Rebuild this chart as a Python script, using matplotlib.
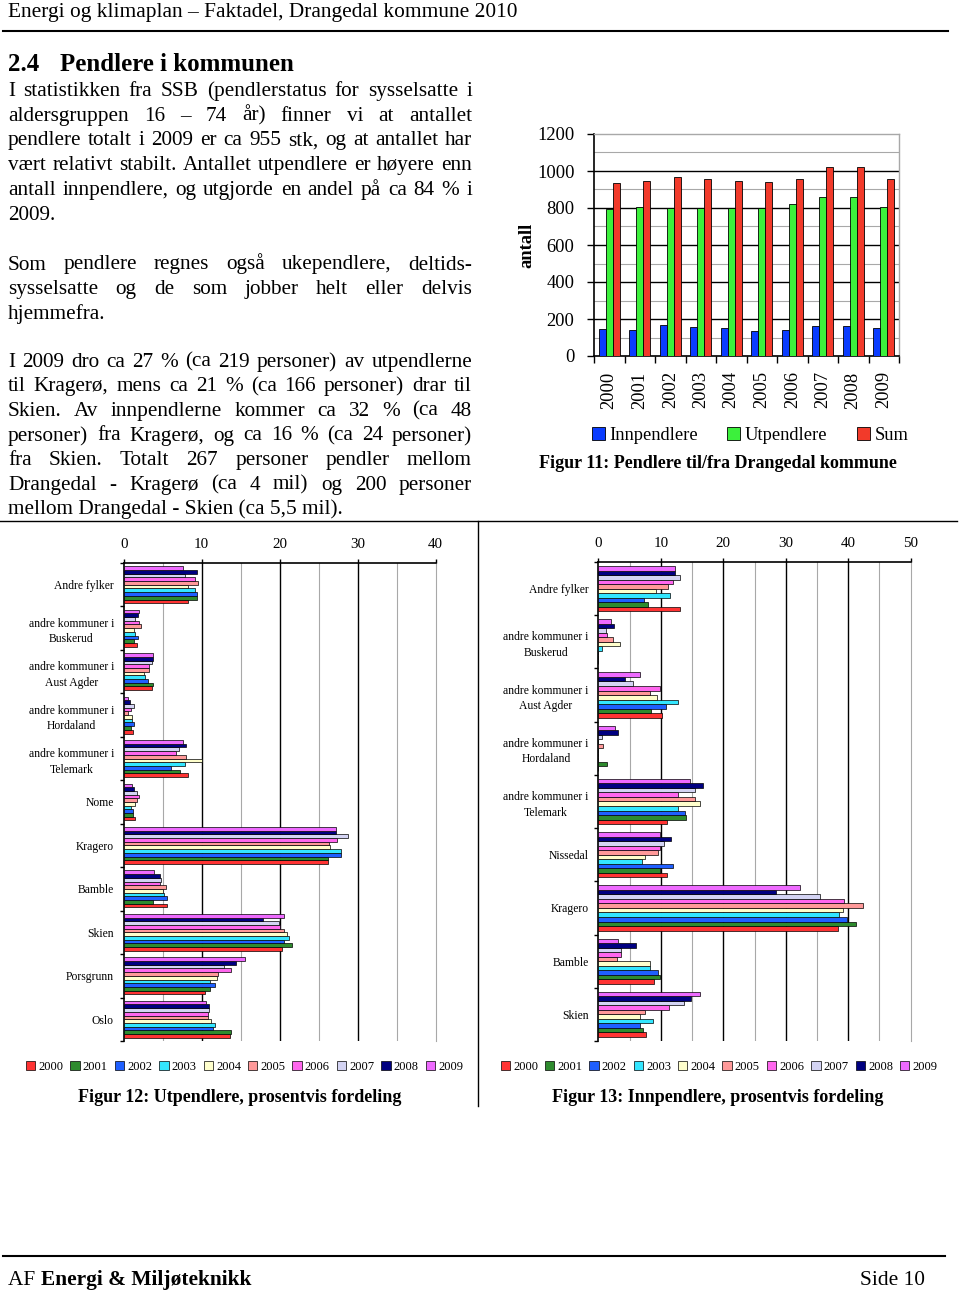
import matplotlib
matplotlib.use('Agg')
import matplotlib.pyplot as plt
from matplotlib.lines import Line2D
import numpy as np

# ---------------- data ----------------
years = ['2000', '2001', '2002', '2003', '2004', '2005', '2006', '2007', '2008', '2009']

innpendlere = [148, 140, 169, 158, 153, 135, 140, 164, 164, 153]
utpendlere = [793, 807, 798, 798, 802, 802, 820, 861, 861, 807]
sum_pendlere = [937, 948, 966, 958, 948, 942, 958, 1022, 1022, 958]

ut_categories = ['Andre fylker', 'andre kommuner i\nBuskerud', 'andre kommuner i\nAust Agder',
                 'andre kommuner i\nHordaland', 'andre kommuner i\nTelemark', 'Nome', 'Kragero',
                 'Bamble', 'Skien', 'Porsgrunn', 'Oslo']
ut_2000 = [8.3, 1.7, 3.6, 1.2, 8.3, 1.4, 26.2, 5.5, 20.3, 10.4, 13.6]
ut_2001 = [9.4, 1.3, 3.8, 0.9, 7.2, 1.2, 26.2, 3.8, 21.6, 11.1, 13.8]
ut_2002 = [9.4, 1.8, 3.1, 1.3, 6.0, 1.2, 27.8, 5.6, 20.5, 11.7, 11.5]
ut_2003 = [9.2, 1.5, 2.7, 1.1, 7.9, 0.9, 27.9, 5.2, 21.2, 11.0, 11.7]
ut_2004 = [8.3, 1.3, 2.6, 1.0, 10.0, 1.4, 26.5, 5.1, 20.9, 12.0, 11.2]
ut_2005 = [9.5, 2.2, 3.2, 0.6, 8.0, 1.7, 26.3, 5.4, 20.5, 12.1, 10.8]
ut_2006 = [9.1, 1.9, 3.2, 0.9, 6.7, 1.9, 27.4, 4.6, 20.0, 13.7, 10.8]
ut_2007 = [7.9, 1.5, 3.6, 1.3, 7.1, 1.7, 28.7, 4.8, 19.9, 12.9, 10.9]
ut_2008 = [9.4, 1.8, 3.7, 0.8, 8.0, 1.3, 27.2, 4.7, 17.9, 14.4, 10.9]
ut_2009 = [7.6, 2.0, 3.8, 0.6, 7.6, 1.0, 27.2, 3.9, 20.6, 15.5, 10.5]
ut_values = [ut_2000, ut_2001, ut_2002, ut_2003, ut_2004, ut_2005, ut_2006, ut_2007, ut_2008, ut_2009]

inn_categories = ['Andre fylker', 'andre kommuner i\nBuskerud', 'andre kommuner i\nAust Agder',
                  'andre kommuner i\nHordaland', 'andre kommuner i\nTelemark', 'Nissedal', 'Kragero',
                  'Bamble', 'Skien']
inn_2000 = [13.0, 0.0, 10.2, 0.0, 11.0, 11.0, 38.3, 8.9, 7.6]
inn_2001 = [7.9, 0.0, 8.5, 1.4, 14.1, 9.9, 41.2, 9.9, 7.1]
inn_2002 = [7.3, 0.0, 10.9, 0.0, 13.8, 12.0, 39.8, 9.6, 6.6]
inn_2003 = [11.4, 0.6, 12.7, 0.0, 12.7, 7.0, 38.6, 8.3, 8.8]
inn_2004 = [9.3, 3.5, 9.4, 0.0, 16.3, 7.4, 39.1, 8.2, 6.7]
inn_2005 = [11.2, 2.3, 8.2, 0.7, 15.5, 9.6, 42.3, 3.0, 7.4]
inn_2006 = [12.0, 1.4, 9.9, 0.0, 12.7, 9.8, 39.4, 3.6, 11.3]
inn_2007 = [13.1, 1.2, 5.5, 0.6, 15.5, 10.5, 35.5, 3.7, 13.7]
inn_2008 = [12.3, 2.5, 4.3, 3.1, 16.7, 11.7, 28.4, 6.1, 14.8]
inn_2009 = [12.2, 2.0, 6.7, 2.7, 14.7, 9.9, 32.3, 3.2, 16.2]
inn_values = [inn_2000, inn_2001, inn_2002, inn_2003, inn_2004, inn_2005, inn_2006, inn_2007, inn_2008, inn_2009]

year_colors = ['#FF3333', '#2E8B2E', '#1F5FFF', '#33E6FF', '#FFFFCC',
               '#FF9999', '#FF66EE', '#D4D4F4', '#000080', '#EE6AFF']

# ---------------- page ----------------
W, H = 960, 1290
plt.rcParams['font.family'] = ['Liberation Serif', 'DejaVu Serif']
fig = plt.figure(figsize=(9.6, 12.9), dpi=100)
fig.patch.set_facecolor('white')
renderer = fig.canvas.get_renderer()


def fx(x):
    return x / W


def fy(y):
    return 1 - y / H


def axes_px(l, t, r, b):
    return fig.add_axes([l / W, 1 - b / H, (r - l) / W, (b - t) / H])


def measure(s, fs, weight='normal'):
    t = fig.text(0, 0, s, fontsize=fs, fontweight=weight)
    w = t.get_window_extent(renderer).width
    t.remove()
    return w


def fit_size(s, width, weight='normal', ref=12.0):
    return ref * width / measure(s, ref, weight)


def hline(x0, x1, y, lw=1.0):
    fig.add_artist(Line2D([fx(x0), fx(x1)], [fy(y), fy(y)], transform=fig.transFigure,
                          color='black', lw=lw))


def vline(x, y0, y1, lw=1.0):
    fig.add_artist(Line2D([fx(x), fx(x)], [fy(y0), fy(y1)], transform=fig.transFigure,
                          color='black', lw=lw))


def justified(lines, x0, x1, y0, dy, fs):
    for k, line in enumerate(lines):
        y = y0 + k * dy
        words = line.split()
        if k == len(lines) - 1 or len(words) == 1:
            fig.text(fx(x0), fy(y), line, fontsize=fs, va='baseline', ha='left')
            continue
        widths = [measure(w, fs) for w in words]
        gap = (x1 - x0 - sum(widths)) / (len(words) - 1)
        x = x0
        for w, wd in zip(words, widths):
            fig.text(fx(x), fy(y), w, fontsize=fs, va='baseline', ha='left')
            x += wd + gap


# header
hdr = 'Energi og klimaplan – Faktadel, Drangedal kommune 2010'
fig.text(fx(8), fy(17), hdr, fontsize=fit_size(hdr, 508), va='baseline', ha='left')
hline(3, 948, 31, lw=1.5)

# heading
hs = fit_size('Pendlere i kommunen', 233, 'bold')
fig.text(fx(8), fy(71), '2.4', fontsize=hs, fontweight='bold', va='baseline')
fig.text(fx(60), fy(71), 'Pendlere i kommunen', fontsize=hs, fontweight='bold', va='baseline')

body = fit_size('mellom Drangedal - Skien (ca 5,5 mil).', 334)

p1 = ['I statistikken fra SSB (pendlerstatus for sysselsatte i',
      'aldersgruppen 16 – 74 år) finner vi at antallet',
      'pendlere totalt i 2009 er ca 955 stk, og at antallet har',
      'vært relativt stabilt. Antallet utpendlere er høyere enn',
      'antall innpendlere, og utgjorde en andel på ca 84 % i',
      '2009.']
p2 = ['Som pendlere regnes også ukependlere,  deltids-',
      'sysselsatte og de som jobber helt eller delvis',
      'hjemmefra.']
p3 = ['I 2009 dro ca 27 % (ca 219 personer) av utpendlerne',
      'til Kragerø, mens ca 21 % (ca 166 personer) drar til',
      'Skien. Av innpendlerne kommer ca 32 % (ca 48',
      'personer) fra Kragerø, og ca 16 % (ca 24 personer)',
      'fra Skien. Totalt 267 personer pendler mellom',
      'Drangedal - Kragerø (ca 4 mil) og 200 personer',
      'mellom Drangedal - Skien (ca 5,5 mil).']
justified(p1, 8, 472, 96, 24.7, body)
justified(p2, 8, 472, 269.5, 24.5, body)
justified(p3, 8, 472, 366.7, 24.6, body)

# frame lines
hline(0, 957, 521, lw=1.0)
vline(478, 521, 1106, lw=1.0)

# footer
hline(3, 945, 1256, lw=1.5)
fs_f = 14.0
w_af = measure('AF ', fs_f)
w_en = measure('Energi & Miljøteknikk', fs_f, 'bold')
fs_f = fs_f * 244 / (w_af + w_en)
w_af = measure('AF ', fs_f)
fig.text(fx(8), fy(1285), 'AF ', fontsize=fs_f, va='baseline')
fig.text(fx(8 + w_af), fy(1285), 'Energi & Miljøteknikk', fontsize=fs_f, fontweight='bold', va='baseline')
fig.text(fx(925), fy(1285), 'Side 10', fontsize=fs_f, va='baseline', ha='right')

# ---------------- Figur 11 ----------------
ax1 = axes_px(594, 134, 899, 356)
x = np.arange(len(years))
bw = 0.7 / 3
ax1.bar(x - bw, innpendlere, bw, color='#0A3CFF', edgecolor='black', lw=0.6, label='Innpendlere', zorder=3)
ax1.bar(x, utpendlere, bw, color='#3CF03C', edgecolor='black', lw=0.6, label='Utpendlere', zorder=3)
ax1.bar(x + bw, sum_pendlere, bw, color='#F23A2A', edgecolor='black', lw=0.6, label='Sum', zorder=3)
ax1.set_xlim(-0.5, len(years) - 0.5)
ax1.set_ylim(0, 1200)
for v in range(200, 1001, 200):
    ax1.axhline(v, color='black', lw=1.0, zorder=1)
for v in range(100, 1200, 200):
    ax1.axhline(v, color='#A8A8A8', lw=0.8, zorder=1)
ax1.set_yticks(range(0, 1201, 200))
ax1.set_xticks(x)
ax1.set_xticklabels(years, rotation=90, fontsize=13.3)
ax1.set_xticks(np.arange(-0.5, len(years), 1), minor=True)
ax1.tick_params(axis='x', which='major', length=0, pad=11)
ax1.tick_params(axis='x', which='minor', length=5, width=1.0, direction='out')
ax1.tick_params(axis='y', which='major', length=5, width=1.0, labelsize=13.3, pad=9)
for s in ['left', 'bottom']:
    ax1.spines[s].set_linewidth(1.2)
for s in ['top', 'right']:
    ax1.spines[s].set_color('#A8A8A8')
    ax1.spines[s].set_linewidth(1.0)
fig.text(fx(527), fy(245), 'antall', rotation=90, fontsize=13.3, fontweight='bold',
         ha='center', va='center')
ax1.legend(loc='center', bbox_to_anchor=(fx(750), fy(435.5)), bbox_transform=fig.transFigure,
           ncol=3, frameon=False, fontsize=13.3, handlelength=0.7, handleheight=0.7,
           handletextpad=0.25, columnspacing=1.6, borderpad=0)
cap11 = 'Figur 11: Pendlere til/fra Drangedal kommune'
fig.text(fx(717.5), fy(464), cap11, fontsize=fit_size(cap11, 357, 'bold'), fontweight='bold',
         ha='center', va='center')


# ---------------- Figur 12 / 13 ----------------
def hbar_chart(ax, cats, values, xmax):
    n = len(cats)
    h = 0.85 / 10
    pos = np.arange(n)
    for j, (yr, vals, col) in enumerate(zip(years, values, year_colors)):
        ax.barh(pos + (4.5 - j) * h, vals, height=h, color=col, edgecolor='black',
                lw=0.5, label=yr, zorder=3)
    ax.set_ylim(n - 0.5, -0.5)
    ax.set_xlim(0, xmax)
    for v in range(10, xmax, 10):
        ax.axvline(v, color='black', lw=1.0, zorder=1)
    for v in range(5, xmax, 10):
        ax.axvline(v, color='#A8A8A8', lw=0.8, zorder=1)
    ax.xaxis.tick_top()
    ax.set_xticks(range(0, xmax + 1, 10))
    ax.tick_params(axis='x', which='major', length=3, width=1.0, labelsize=10.8, pad=5.8)
    ax.set_yticks(pos)
    ax.set_yticklabels(cats, fontsize=8.4, multialignment='center', linespacing=1.4)
    ax.tick_params(axis='y', which='major', length=0, pad=7)
    ax.set_yticks(np.arange(-0.5, n, 1), minor=True)
    ax.tick_params(axis='y', which='minor', length=3, width=1.0, direction='out')
    ax.spines['bottom'].set_visible(False)
    ax.spines['right'].set_color('#A8A8A8')
    ax.spines['top'].set_linewidth(1.2)
    ax.spines['left'].set_linewidth(1.2)


ax2 = axes_px(123.7, 563, 435.7, 1041)
hbar_chart(ax2, ut_categories, ut_values, 40)
ax2.legend(loc='center', bbox_to_anchor=(fx(244.5), fy(1067)), bbox_transform=fig.transFigure,
           ncol=10, frameon=False, fontsize=9, handlelength=0.75, handleheight=0.75,
           handletextpad=0.25, columnspacing=0.55, borderpad=0)
cap12 = 'Figur 12: Utpendlere, prosentvis fordeling'
fig.text(fx(240), fy(1098), cap12, fontsize=fit_size(cap12, 322, 'bold'), fontweight='bold',
         ha='center', va='center')

ax3 = axes_px(598.3, 562, 910.7, 1041)
hbar_chart(ax3, inn_categories, inn_values, 50)
ax3.legend(loc='center', bbox_to_anchor=(fx(719), fy(1067)), bbox_transform=fig.transFigure,
           ncol=10, frameon=False, fontsize=9, handlelength=0.75, handleheight=0.75,
           handletextpad=0.25, columnspacing=0.55, borderpad=0)
cap13 = 'Figur 13: Innpendlere, prosentvis fordeling'
fig.text(fx(718), fy(1098), cap13, fontsize=fit_size(cap13, 330, 'bold'), fontweight='bold',
         ha='center', va='center')

fig.savefig('out.png', dpi=100, facecolor='white')
